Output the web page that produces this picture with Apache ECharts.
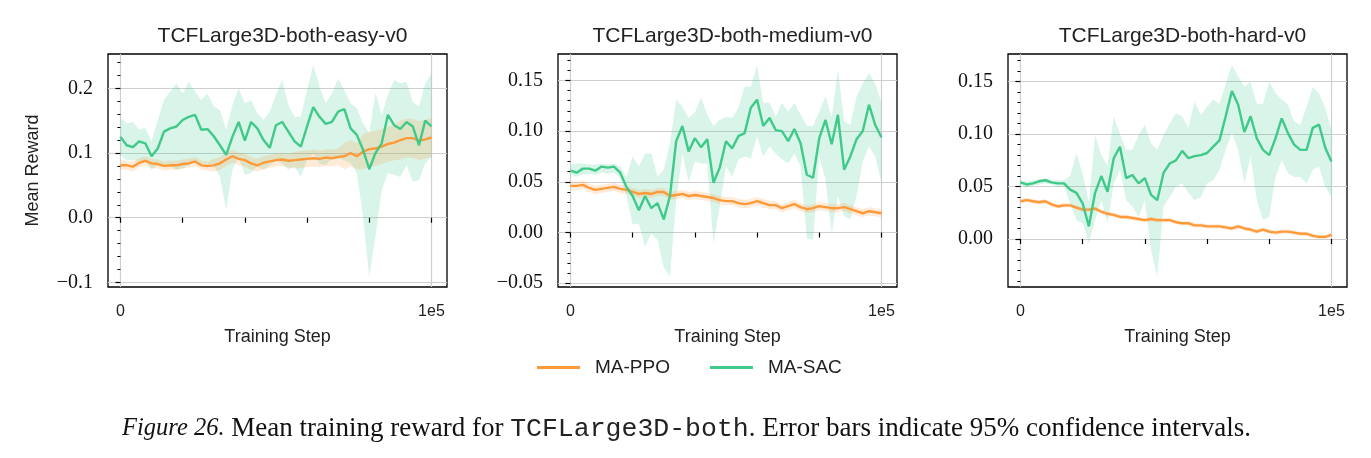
<!DOCTYPE html>
<html>
<head>
<meta charset="utf-8">
<script src="https://cdn.jsdelivr.net/npm/echarts@6.0.0/dist/echarts.min.js"></script>
<style>
  html, body { margin: 0; padding: 0; background: #fff; }
  #chart { width: 1371px; height: 458px; }
</style>
</head>
<body>
<div id="chart"></div>
<script>
// training steps (x values shared by every curve)
var steps = [0, 2000, 4000, 6000, 8000, 10000, 12000, 14000, 16000, 18000,
  20000, 22000, 24000, 26000, 28000, 30000, 32000, 34000, 36000, 38000,
  40000, 42000, 44000, 46000, 48000, 50000, 52000, 54000, 56000, 58000,
  60000, 62000, 64000, 66000, 68000, 70000, 72000, 74000, 76000, 78000,
  80000, 82000, 84000, 86000, 88000, 90000, 92000, 94000, 96000, 98000, 100000];

var titles = ["TCFLarge3D-both-easy-v0", "TCFLarge3D-both-medium-v0", "TCFLarge3D-both-hard-v0"];
var legendNames = ["MA-PPO", "MA-SAC"];

// ---- easy ----
var easyPpo = [0.081, 0.081, 0.079, 0.085, 0.088, 0.084, 0.083, 0.080, 0.081, 0.081,
  0.083, 0.084, 0.087, 0.081, 0.080, 0.081, 0.084, 0.090, 0.095, 0.091,
  0.089, 0.084, 0.081, 0.085, 0.087, 0.089, 0.090, 0.088, 0.089, 0.090,
  0.091, 0.092, 0.091, 0.093, 0.092, 0.094, 0.095, 0.100, 0.095, 0.102,
  0.106, 0.107, 0.110, 0.114, 0.116, 0.120, 0.123, 0.123, 0.119, 0.121, 0.124];
var easyPpoLow = [0.074, 0.074, 0.072, 0.078, 0.081, 0.077, 0.076, 0.073, 0.074, 0.074,
  0.076, 0.077, 0.080, 0.074, 0.073, 0.071, 0.074, 0.080, 0.085, 0.081,
  0.079, 0.074, 0.071, 0.075, 0.077, 0.079, 0.080, 0.078, 0.076, 0.077,
  0.078, 0.079, 0.078, 0.080, 0.079, 0.081, 0.075, 0.080, 0.075, 0.075,
  0.079, 0.080, 0.083, 0.087, 0.089, 0.090, 0.093, 0.093, 0.089, 0.091, 0.094];
var easyPpoHigh = [0.088, 0.088, 0.086, 0.092, 0.095, 0.091, 0.090, 0.087, 0.088, 0.088,
  0.090, 0.091, 0.094, 0.088, 0.087, 0.091, 0.094, 0.100, 0.105, 0.101,
  0.099, 0.094, 0.091, 0.095, 0.097, 0.099, 0.100, 0.098, 0.102, 0.103,
  0.104, 0.105, 0.104, 0.106, 0.105, 0.107, 0.115, 0.120, 0.115, 0.129,
  0.133, 0.134, 0.137, 0.141, 0.143, 0.150, 0.153, 0.153, 0.149, 0.151, 0.154];
var easySac = [0.125, 0.112, 0.109, 0.118, 0.115, 0.095, 0.107, 0.133, 0.138, 0.141,
  0.151, 0.156, 0.159, 0.136, 0.137, 0.126, 0.112, 0.097, 0.125, 0.148,
  0.119, 0.148, 0.138, 0.120, 0.108, 0.143, 0.148, 0.133, 0.118, 0.110,
  0.141, 0.171, 0.156, 0.145, 0.148, 0.164, 0.168, 0.138, 0.128, 0.105,
  0.075, 0.100, 0.115, 0.159, 0.143, 0.137, 0.148, 0.141, 0.112, 0.150, 0.141];
var easySacLow = [0.097, 0.089, 0.089, 0.087, 0.089, 0.074, 0.081, 0.081, 0.079, 0.074,
  0.076, 0.081, 0.089, 0.081, 0.084, 0.081, 0.063, 0.012, 0.074, 0.094,
  0.066, 0.069, 0.079, 0.074, 0.081, 0.089, 0.084, 0.074, 0.079, 0.063,
  0.089, 0.099, 0.084, 0.081, 0.092, 0.092, 0.089, 0.084, 0.069, 0.002,
  -0.091, -0.029, 0.043, 0.069, 0.066, 0.063, 0.081, 0.056, 0.058, 0.084, 0.094];
var easySacHigh = [0.154, 0.146, 0.148, 0.136, 0.139, 0.118, 0.151, 0.182, 0.195, 0.208,
  0.192, 0.210, 0.195, 0.182, 0.192, 0.172, 0.166, 0.136, 0.174, 0.200,
  0.177, 0.182, 0.161, 0.151, 0.164, 0.190, 0.213, 0.174, 0.156, 0.156,
  0.197, 0.236, 0.203, 0.177, 0.192, 0.215, 0.197, 0.177, 0.169, 0.146,
  0.130, 0.193, 0.159, 0.190, 0.213, 0.208, 0.210, 0.179, 0.172, 0.208, 0.223];

// ---- medium ----
var medPpo = [0.046, 0.046, 0.047, 0.044, 0.042, 0.043, 0.044, 0.045, 0.043, 0.042,
  0.040, 0.038, 0.039, 0.038, 0.040, 0.040, 0.036, 0.037, 0.038, 0.036,
  0.037, 0.036, 0.035, 0.034, 0.032, 0.031, 0.031, 0.029, 0.028, 0.029,
  0.031, 0.029, 0.027, 0.027, 0.024, 0.026, 0.028, 0.025, 0.023, 0.024,
  0.026, 0.025, 0.024, 0.024, 0.025, 0.023, 0.021, 0.019, 0.021, 0.020, 0.019];
var medPpoLow = [0.042, 0.042, 0.043, 0.040, 0.038, 0.039, 0.040, 0.041, 0.039, 0.038,
  0.036, 0.034, 0.035, 0.034, 0.036, 0.036, 0.032, 0.033, 0.034, 0.032,
  0.033, 0.032, 0.031, 0.030, 0.028, 0.027, 0.027, 0.025, 0.024, 0.025,
  0.027, 0.025, 0.023, 0.023, 0.020, 0.022, 0.024, 0.021, 0.019, 0.020,
  0.022, 0.021, 0.020, 0.020, 0.021, 0.019, 0.017, 0.015, 0.017, 0.016, 0.015];
var medPpoHigh = [0.050, 0.050, 0.051, 0.048, 0.046, 0.047, 0.048, 0.049, 0.047, 0.046,
  0.044, 0.042, 0.043, 0.042, 0.044, 0.044, 0.040, 0.041, 0.042, 0.040,
  0.041, 0.040, 0.039, 0.038, 0.036, 0.035, 0.035, 0.033, 0.032, 0.033,
  0.035, 0.033, 0.031, 0.031, 0.028, 0.030, 0.032, 0.029, 0.027, 0.028,
  0.030, 0.029, 0.028, 0.028, 0.029, 0.027, 0.025, 0.023, 0.025, 0.024, 0.023];
var medSac = [0.061, 0.059, 0.063, 0.063, 0.061, 0.065, 0.064, 0.065, 0.059, 0.045,
  0.036, 0.022, 0.036, 0.024, 0.029, 0.013, 0.036, 0.090, 0.105, 0.080,
  0.093, 0.084, 0.092, 0.049, 0.064, 0.090, 0.083, 0.095, 0.098, 0.123,
  0.131, 0.105, 0.113, 0.101, 0.100, 0.090, 0.102, 0.088, 0.057, 0.054,
  0.093, 0.111, 0.087, 0.116, 0.062, 0.075, 0.092, 0.100, 0.126, 0.106, 0.094];
var medSacLow = [0.057, 0.055, 0.057, 0.058, 0.057, 0.059, 0.058, 0.059, 0.054, 0.037,
  0.008, 0.009, -0.014, -0.001, -0.007, -0.034, -0.043, 0.032, 0.078, 0.050,
  0.070, 0.068, 0.068, -0.011, 0.026, 0.065, 0.055, 0.072, 0.075, 0.073,
  0.095, 0.075, 0.085, 0.078, 0.072, 0.068, 0.078, 0.065, -0.006, -0.007,
  0.075, 0.052, -0.001, 0.036, 0.016, 0.013, 0.036, 0.070, 0.085, 0.075, 0.049];
var medSacHigh = [0.067, 0.068, 0.068, 0.067, 0.067, 0.068, 0.067, 0.068, 0.065, 0.055,
  0.075, 0.065, 0.078, 0.078, 0.055, 0.062, 0.088, 0.131, 0.124, 0.113,
  0.118, 0.133, 0.116, 0.105, 0.111, 0.114, 0.113, 0.123, 0.144, 0.144,
  0.165, 0.128, 0.128, 0.114, 0.128, 0.119, 0.128, 0.116, 0.105, 0.105,
  0.119, 0.134, 0.114, 0.161, 0.110, 0.106, 0.134, 0.147, 0.157, 0.147, 0.128];

// ---- hard ----
var hardPpo = [0.036, 0.037, 0.036, 0.035, 0.036, 0.033, 0.031, 0.032, 0.032, 0.030,
  0.028, 0.028, 0.029, 0.026, 0.024, 0.023, 0.021, 0.021, 0.020, 0.019,
  0.018, 0.019, 0.018, 0.018, 0.018, 0.016, 0.015, 0.015, 0.013, 0.013,
  0.012, 0.012, 0.012, 0.011, 0.010, 0.012, 0.010, 0.009, 0.007, 0.009,
  0.007, 0.006, 0.007, 0.007, 0.006, 0.005, 0.005, 0.003, 0.002, 0.002, 0.004];
var hardPpoLow = [0.034, 0.035, 0.034, 0.033, 0.034, 0.031, 0.029, 0.030, 0.030, 0.028,
  0.026, 0.026, 0.027, 0.024, 0.022, 0.021, 0.019, 0.019, 0.018, 0.017,
  0.016, 0.017, 0.016, 0.016, 0.016, 0.014, 0.013, 0.013, 0.011, 0.011,
  0.010, 0.010, 0.010, 0.009, 0.008, 0.010, 0.008, 0.007, 0.005, 0.007,
  0.005, 0.004, 0.005, 0.005, 0.004, 0.003, 0.003, 0.001, 0.000, 0.000, 0.002];
var hardPpoHigh = [0.038, 0.039, 0.038, 0.037, 0.038, 0.035, 0.033, 0.034, 0.034, 0.032,
  0.030, 0.030, 0.031, 0.028, 0.026, 0.025, 0.023, 0.023, 0.022, 0.021,
  0.020, 0.021, 0.020, 0.020, 0.020, 0.018, 0.017, 0.017, 0.015, 0.015,
  0.014, 0.014, 0.014, 0.013, 0.012, 0.014, 0.012, 0.011, 0.009, 0.011,
  0.009, 0.008, 0.009, 0.009, 0.008, 0.007, 0.007, 0.005, 0.004, 0.004, 0.006];
var hardSac = [0.054, 0.052, 0.053, 0.055, 0.056, 0.054, 0.053, 0.053, 0.047, 0.044,
  0.034, 0.012, 0.044, 0.060, 0.045, 0.077, 0.088, 0.058, 0.061, 0.053,
  0.058, 0.042, 0.037, 0.063, 0.072, 0.075, 0.084, 0.077, 0.079, 0.080,
  0.082, 0.088, 0.094, 0.117, 0.141, 0.128, 0.102, 0.117, 0.096, 0.085,
  0.080, 0.096, 0.115, 0.101, 0.090, 0.085, 0.085, 0.106, 0.109, 0.087, 0.074];
var hardSacLow = [0.052, 0.049, 0.051, 0.052, 0.053, 0.052, 0.050, 0.050, 0.034, 0.018,
  0.015, -0.004, 0.018, 0.037, 0.015, 0.053, 0.066, 0.037, 0.031, 0.021,
  0.037, -0.011, -0.036, 0.031, 0.040, 0.050, 0.053, 0.044, 0.037, 0.040,
  0.053, 0.056, 0.066, 0.085, 0.101, 0.085, 0.053, 0.079, 0.037, 0.018,
  0.021, 0.059, 0.075, 0.063, 0.059, 0.059, 0.053, 0.066, 0.069, 0.050, 0.040];
var hardSacHigh = [0.056, 0.055, 0.056, 0.057, 0.058, 0.056, 0.056, 0.056, 0.060, 0.082,
  0.062, 0.035, 0.099, 0.080, 0.070, 0.117, 0.100, 0.085, 0.085, 0.099,
  0.109, 0.091, 0.085, 0.099, 0.110, 0.120, 0.117, 0.106, 0.131, 0.118,
  0.126, 0.133, 0.129, 0.148, 0.166, 0.155, 0.145, 0.150, 0.129, 0.129,
  0.150, 0.139, 0.133, 0.128, 0.112, 0.109, 0.126, 0.145, 0.139, 0.125, 0.104];

// y tick labels per panel
var yMajor = [[-0.1, 0, 0.1, 0.2], [-0.05, 0, 0.05, 0.1, 0.15], [0, 0.05, 0.1, 0.15]];
var yMinor = [
  [-0.08, -0.06, -0.04, -0.02, 0.02, 0.04, 0.06, 0.08, 0.12, 0.14, 0.16, 0.18, 0.22, 0.24],
  [-0.04, -0.03, -0.02, -0.01, 0.01, 0.02, 0.03, 0.04, 0.06, 0.07, 0.08, 0.09,
    0.11, 0.12, 0.13, 0.14, 0.16, 0.17],
  [-0.04, -0.03, -0.02, -0.01, 0.01, 0.02, 0.03, 0.04, 0.06, 0.07, 0.08, 0.09,
    0.11, 0.12, 0.13, 0.14, 0.16, 0.17]
];
var xMajor = [0, 100000];
var xMinor = [20000, 40000, 60000, 80000];

var panels = [
  {ppo: easyPpo, ppoLow: easyPpoLow, ppoHigh: easyPpoHigh, sac: easySac, sacLow: easySacLow, sacHigh: easySacHigh},
  {ppo: medPpo, ppoLow: medPpoLow, ppoHigh: medPpoHigh, sac: medSac, sacLow: medSacLow, sacHigh: medSacHigh},
  {ppo: hardPpo, ppoLow: hardPpoLow, ppoHigh: hardPpoHigh, sac: hardSac, sacLow: hardSacLow, sacHigh: hardSacHigh}
];

var ORANGE = '#ff9a3a';
var GREEN = '#3fca8a';
var SANS = 'Liberation Sans';
var SERIF = 'Liberation Serif';

var lefts = [108, 558, 1008];
var plotW = 339, plotTop = 54, plotH = 233;
var yRanges = [[-0.107, 0.253], [-0.0537, 0.176], [-0.0458, 0.1764]];
var yDigits = [1, 2, 2];

function pairs(arr) {
  return steps.map(function (s, j) { return [s, arr[j]]; });
}

// confidence band as one polygon, placed with the axis scales (api.coord)
function bandSeries(lo, hi, color, xi, yi, z) {
  return {
    type: 'custom', xAxisIndex: xi, yAxisIndex: yi, silent: true, z: z, clip: true,
    data: steps.map(function (s, j) { return [s, lo[j], hi[j]]; }),
    encode: {x: 0, y: [1, 2]},
    renderItem: function (params, api) {
      if (params.dataIndex !== 0) return;
      var pts = [], j;
      for (j = 0; j < steps.length; j++) pts.push(api.coord([steps[j], hi[j]]));
      for (j = steps.length - 1; j >= 0; j--) pts.push(api.coord([steps[j], lo[j]]));
      return {type: 'polygon', shape: {points: pts}, style: {fill: color}};
    }
  };
}

var grid = [], xAxis = [], yAxis = [], series = [], title = [];

panels.forEach(function (p, i) {
  grid.push({left: lefts[i], top: plotTop, width: plotW, height: plotH,
    show: true, borderColor: '#000', borderWidth: 1.3, backgroundColor: 'transparent'});

  title.push({text: titles[i], left: lefts[i] + plotW / 2, top: 21, textAlign: 'center',
    textStyle: {fontFamily: SANS, fontSize: 21, fontWeight: 'normal', color: '#222'}});

  // main x axis: gridlines + labels at 0 and 1e5
  xAxis.push({
    type: 'value', gridIndex: i, min: -4000, max: 105000, position: 'bottom',
    axisLine: {show: false},
    axisTick: {customValues: xMajor, length: 5, lineStyle: {color: '#000', width: 1.2}},
    axisLabel: {customValues: xMajor, margin: 17, fontFamily: SANS, fontSize: 16, color: '#222',
      formatter: function (v) { return v === 0 ? '0' : '1e5'; }},
    splitLine: {show: true, lineStyle: {color: '#cfcfcf', width: 1.2}},
    name: 'Training Step', nameLocation: 'middle', nameGap: 41,
    nameTextStyle: {fontFamily: SANS, fontSize: 18, color: '#222'}
  });
  // second x axis just for the in-between ticks
  xAxis.push({
    type: 'value', gridIndex: i, min: -4000, max: 105000, position: 'bottom',
    axisLine: {show: false},
    axisTick: {customValues: xMinor, length: 5, lineStyle: {color: '#000', width: 1.2}},
    axisLabel: {show: false}, splitLine: {show: false}
  });

  var d = yDigits[i];
  yAxis.push({
    type: 'value', gridIndex: i, min: yRanges[i][0], max: yRanges[i][1], position: 'left',
    axisLine: {show: false},
    axisTick: {customValues: yMajor[i], length: 5, lineStyle: {color: '#000', width: 1.2}},
    axisLabel: {customValues: yMajor[i], margin: 15, fontFamily: SERIF, fontSize: 20, color: '#111',
      formatter: function (v) { return v.toFixed(d).replace('-', '\u2212'); }},
    splitLine: {show: true, lineStyle: {color: '#cfcfcf', width: 1.2}},
    name: i === 0 ? 'Mean Reward' : '', nameLocation: 'middle', nameGap: 66, nameRotate: 90,
    nameTextStyle: {fontFamily: SANS, fontSize: 18, color: '#222'}
  });
  yAxis.push({
    type: 'value', gridIndex: i, min: yRanges[i][0], max: yRanges[i][1], position: 'left',
    axisLine: {show: false},
    axisTick: {customValues: yMinor[i], length: 3, lineStyle: {color: '#000', width: 1}},
    axisLabel: {show: false}, splitLine: {show: false}
  });

  var xi = 2 * i, yi = 2 * i;
  series.push(bandSeries(p.sacLow, p.sacHigh, 'rgba(63,202,138,0.2)', xi, yi, 1));
  series.push(bandSeries(p.ppoLow, p.ppoHigh, 'rgba(255,154,58,0.2)', xi, yi, 2));
  // mean curves
  series.push({name: 'MA-PPO', type: 'line', xAxisIndex: xi, yAxisIndex: yi, data: pairs(p.ppo),
    symbol: 'none', lineStyle: {color: ORANGE, width: 2.4}, itemStyle: {color: ORANGE}, z: 3});
  series.push({name: 'MA-SAC', type: 'line', xAxisIndex: xi, yAxisIndex: yi, data: pairs(p.sac),
    symbol: 'none', lineStyle: {color: GREEN, width: 2.4}, itemStyle: {color: GREEN}, z: 4});
});

// caption
title.push({
  text: '{it|Figure 26.}{rm| Mean training reward for }{tt|TCFLarge3D-both}{rm|. Error bars indicate 95% confidence intervals.}',
  left: 122, top: 415, padding: 0,
  textStyle: {fontWeight: 'normal', rich: {
    it: {fontFamily: SERIF, fontStyle: 'italic', fontWeight: 'normal', fontSize: 24.5, color: '#111'},
    rm: {fontFamily: SERIF, fontWeight: 'normal', fontSize: 27, color: '#111'},
    tt: {fontFamily: 'Liberation Mono', fontWeight: 'normal', fontSize: 26.5, color: '#222'}
  }}
});

var chart = echarts.init(document.getElementById('chart'), null, {renderer: 'canvas'});
chart.setOption({
  animation: false,
  backgroundColor: '#fff',
  title: title,
  legend: {
    data: legendNames, left: 532, top: 353, icon: 'rect', itemWidth: 43, itemHeight: 3,
    itemGap: 40, textStyle: {fontFamily: SANS, fontSize: 19, color: '#222', padding: [0, 0, 0, 10]}
  },
  grid: grid,
  xAxis: xAxis,
  yAxis: yAxis,
  series: series
});
</script>
</body>
</html>
